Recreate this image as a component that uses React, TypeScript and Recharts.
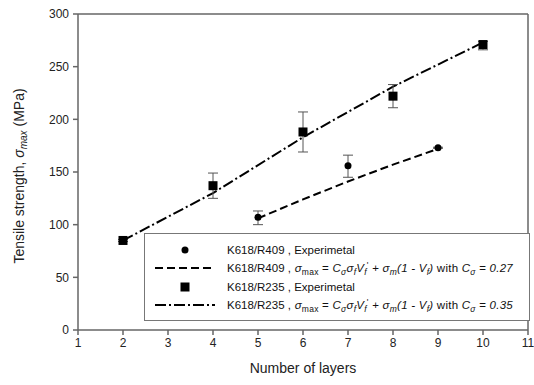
import React from "react";
import {
  ComposedChart, Line, Scatter, ErrorBar, XAxis, YAxis, ReferenceLine,
} from "recharts";

const FONT = "'Liberation Sans', Arial, sans-serif";
const AXIS = "#666";

// ─── data ───
const xTicks = [1, 2, 3, 4, 5, 6, 7, 8, 9, 10, 11];
const yTicks = [0, 50, 100, 150, 200, 250, 300];

// K618/R409 experimental (circles)
const r409Layers = [5, 7, 9];
const r409Strength = [107, 156, 173];
const r409ErrLow = [7, 11, 0.5];
const r409ErrHigh = [6, 10, 0.5];

// K618/R409 model (dashed)
const r409ModelLayers = [5, 6, 7, 8, 9];
const r409ModelStrength = [106, 124, 141, 157, 172];

// K618/R235 experimental (squares)
const r235Layers = [2, 4, 6, 8, 10];
const r235Strength = [85, 137, 188, 222, 271];
const r235ErrLow = [1, 12, 19, 11, 5];
const r235ErrHigh = [1, 12, 19, 11, 3];

// K618/R235 model (dash-dot)
const r235ModelLayers = [2, 4, 6, 8, 10];
const r235ModelStrength = [85, 130, 183, 231, 273];

const r409Exp = r409Layers.map((x, i) => ({ x, y: r409Strength[i], err: [r409ErrLow[i], r409ErrHigh[i]] }));
const r235Exp = r235Layers.map((x, i) => ({ x, y: r235Strength[i], err: [r235ErrLow[i], r235ErrHigh[i]] }));
const r409Model = r409ModelLayers.map((x, i) => ({ x, y: r409ModelStrength[i] }));
const r235Model = r235ModelLayers.map((x, i) => ({ x, y: r235ModelStrength[i] }));

const DASH = "8 4";
const DASHDOT = "11 3 2 3";

const Dot = (p: any) => <circle cx={p.cx} cy={p.cy} r={3.5} fill="#000" />;
const Square = (p: any) => <rect x={p.cx - 4.5} y={p.cy - 4.5} width={9} height={9} fill="#000" />;

const sub = { fontSize: 8.5, position: "relative" as const, top: 3 };
const sup = { fontSize: 8.5, position: "relative" as const, top: -4 };

function Formula({ c }: { c: string }) {
  return (
    <span style={{ letterSpacing: 0.25 }}>
      , <i>σ</i><span style={sub}>max</span> = <i>C</i><span style={sub}><i>σ</i></span><i>σ</i>
      <span style={sub}><i>f</i></span><i>V</i><span style={sub}><i>f</i></span><span style={sup}>'</span> + <i>σ</i>
      <span style={sub}><i>m</i></span><i>(1 - V</i><span style={sub}><i>f</i></span><i>)</i> with <i>C</i>
      <span style={sub}><i>σ</i></span> = <i>{c}</i>
    </span>
  );
}

function LegendBox() {
  const rows = [
    { sym: <circle cx={30} cy={9} r={3.5} fill="#000" />, text: <>K618/R409 , Experimetal</> },
    { sym: <line x1={0} x2={60} y1={9} y2={9} stroke="#000" strokeWidth={2} strokeDasharray={DASH} />, text: <>K618/R409 <Formula c="0.27" /></> },
    { sym: <rect x={25.5} y={4.5} width={9} height={9} fill="#000" />, text: <>K618/R235 , Experimetal</> },
    { sym: <line x1={0} x2={60} y1={9} y2={9} stroke="#000" strokeWidth={2} strokeDasharray={DASHDOT} />, text: <>K618/R235 <Formula c="0.35" /></> },
  ];
  return (
    <div
      style={{
        position: "absolute", left: 144, top: 233, width: 386, height: 88,
        border: "1.5px solid #777", background: "#fff", fontFamily: FONT,
        fontSize: 11.5, color: "#111", paddingTop: 7, boxSizing: "border-box",
      }}
    >
      {rows.map((r, i) => (
        <div key={i} style={{ display: "flex", alignItems: "center", height: 18.3, whiteSpace: "nowrap" }}>
          <svg width={60} height={18} style={{ marginLeft: 10, marginRight: 12, flex: "none" }}>{r.sym}</svg>
          <span>{r.text}</span>
        </div>
      ))}
    </div>
  );
}

const YLabel = () => (
  <text
    x={24} y={176} transform="rotate(-90, 24, 176)" textAnchor="middle"
    fontFamily={FONT} fontSize={14} fill="#222"
  >
    Tensile strength, <tspan fontStyle="italic">σ</tspan>
    <tspan fontStyle="italic" fontSize={10} dy={3}>max</tspan>
    <tspan dy={-3}> (MPa)</tspan>
  </text>
);

const XLabel = () => (
  <text x={303} y={373} textAnchor="middle" fontFamily={FONT} fontSize={14} fill="#222">
    Number of layers
  </text>
);

export default function App() {
  return (
    <div style={{ position: "absolute", left: 0, top: 0, width: 534, height: 385, background: "#fff" }}>
      <ComposedChart width={534} height={385} margin={{ top: 14, right: 6, bottom: 0, left: 0 }}>
        <XAxis
          dataKey="x" type="number" domain={[1, 11]} ticks={xTicks} height={55}
          stroke={AXIS} strokeWidth={1.5} tickSize={5} tickMargin={3}
          tick={{ fontSize: 12, fill: "#222", fontFamily: FONT }}
          label={{ content: XLabel }} allowDataOverflow
        />
        <YAxis
          type="number" domain={[0, 300]} ticks={yTicks} width={78}
          stroke={AXIS} strokeWidth={1.5} tickSize={5} tickMargin={4}
          tick={{ fontSize: 12, fill: "#222", fontFamily: FONT }}
          label={{ content: YLabel }}
        />
        <ReferenceLine y={300} stroke={AXIS} strokeWidth={1.5} />
        <ReferenceLine x={11} stroke={AXIS} strokeWidth={1.5} />
        <Line data={r409Model} dataKey="y" type="linear" stroke="#000" strokeWidth={2}
          strokeDasharray={DASH} dot={false} isAnimationActive={false} />
        <Line data={r235Model} dataKey="y" type="linear" stroke="#000" strokeWidth={2}
          strokeDasharray={DASHDOT} dot={false} isAnimationActive={false} />
        <Scatter data={r409Exp} dataKey="y" shape={Dot} isAnimationActive={false}>
          <ErrorBar dataKey="err" direction="y" width={5} stroke="#555" strokeWidth={1} />
        </Scatter>
        <Scatter data={r235Exp} dataKey="y" shape={Square} isAnimationActive={false}>
          <ErrorBar dataKey="err" direction="y" width={5} stroke="#555" strokeWidth={1} />
        </Scatter>
      </ComposedChart>
      <LegendBox />
    </div>
  );
}
